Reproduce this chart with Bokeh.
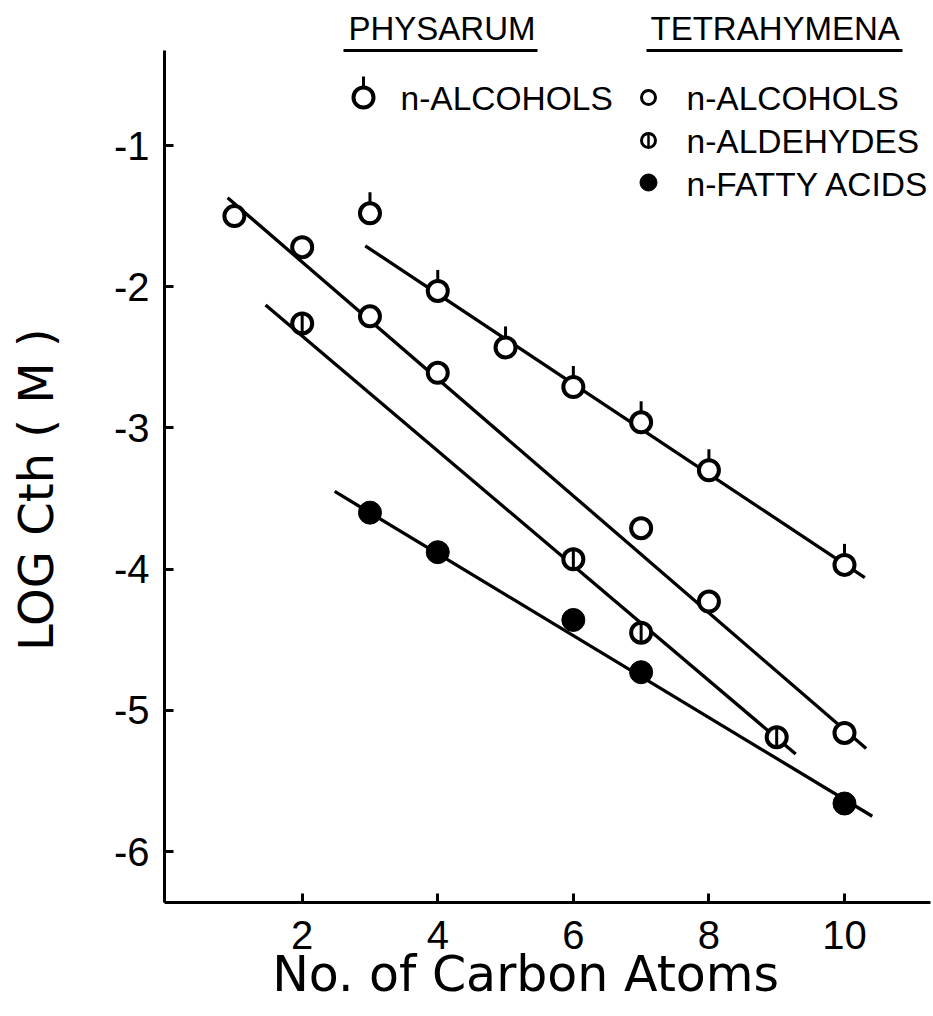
import math
from bokeh.plotting import figure
from bokeh.models import Range1d, FixedTicker, Label, BoxAnnotation
from bokeh.embed import file_html
from bokeh.resources import INLINE

# ---------------- data ----------------
phys_alc_x = [3, 4, 5, 6, 7, 8, 10]
phys_alc_y = [-1.48, -2.03, -2.43, -2.71, -2.96, -3.30, -3.97]

tetra_alc_x = [1, 2, 3, 4, 7, 8, 10]
tetra_alc_y = [-1.50, -1.72, -2.21, -2.61, -3.71, -4.23, -5.16]

tetra_ald_x = [2, 6, 7, 9]
tetra_ald_y = [-2.26, -3.93, -4.45, -5.19]

tetra_fa_x = [3, 4, 6, 7, 10]
tetra_fa_y = [-3.60, -3.88, -4.36, -4.73, -5.66]

# regression lines as drawn (end points)
phys_alc_fit_x = [2.93, 10.30]
phys_alc_fit_y = [-1.71, -4.06]
tetra_alc_fit_x = [0.90, 10.32]
tetra_alc_fit_y = [-1.37, -5.27]
tetra_ald_fit_x = [1.46, 9.28]
tetra_ald_fit_y = [-2.13, -5.31]
tetra_fa_fit_x = [2.48, 10.41]
tetra_fa_fit_y = [-3.45, -5.75]

x_ticks = [2, 4, 6, 8, 10]
x_tick_labels = ["2", "4", "6", "8", "10"]
y_ticks = [-1, -2, -3, -4, -5, -6]
y_tick_labels = ["-1", "-2", "-3", "-4", "-5", "-6"]

x_title = "No. of Carbon Atoms"
y_title = "LOG Cth ( M )"
header_left = "PHYSARUM"
header_right = "TETRAHYMENA"
legend_labels = ["n-ALCOHOLS", "n-ALCOHOLS", "n-ALDEHYDES", "n-FATTY ACIDS"]

# ---------------- layout (pixels of the 933x1016 picture) ----------------
X0, X1 = -0.031, 11.313
Y0, Y1 = -6.361, 0.027
FL, FT, FW, FH = 164, 0, 769, 902
TXT_SHIFT = 12   # Label baseline correction (px)


def px(X):
    return X0 + (X - FL) / FW * (X1 - X0)


def py(Y):
    return Y1 - (Y - FT) / FH * (Y1 - Y0)


p = figure(frame_width=FW, frame_height=FH,
           min_border_left=FL, min_border_top=0, min_border_right=0,
           min_border_bottom=106,
           x_range=Range1d(X0, X1), y_range=Range1d(Y0, Y1),
           output_backend="svg", toolbar_location=None)
p.outline_line_color = None
p.xgrid.visible = False
p.ygrid.visible = False
p.background_fill_color = "white"
p.border_fill_color = "white"

TICK_FONT = "Liberation Sans"
for ax in (p.xaxis[0], p.yaxis[0]):
    ax.axis_line_width = 3
    ax.axis_line_color = "black"
    ax.major_tick_line_width = 3
    ax.major_tick_in = 9
    ax.major_tick_out = 0
    ax.minor_tick_line_color = None
    ax.major_label_text_font = TICK_FONT
    ax.major_label_text_font_size = "40px"
    ax.major_label_text_color = "black"
    ax.axis_label_text_font = "DejaVu Sans"
    ax.axis_label_text_font_style = "normal"
    ax.axis_label_text_color = "black"

p.xaxis[0].ticker = FixedTicker(ticks=x_ticks)
p.yaxis[0].ticker = FixedTicker(ticks=y_ticks)
p.xaxis[0].major_label_overrides = dict(zip(x_ticks, x_tick_labels))
p.yaxis[0].major_label_overrides = dict(zip(y_ticks, y_tick_labels))
p.xaxis[0].major_label_standoff = 18
p.yaxis[0].major_label_standoff = 15
p.yaxis[0].bounds = (Y0, py(50))
p.xaxis[0].bounds = (X0, px(930))

p.xaxis[0].axis_label = x_title + "\u00a0" * 3
p.xaxis[0].axis_label_text_font_size = "49px"
p.xaxis[0].axis_label_standoff = -6
p.yaxis[0].axis_label = y_title + "\u00a0" * 5
p.yaxis[0].axis_label_text_font_size = "48px"
p.yaxis[0].axis_label_standoff = 47

LW = 3.3

# fitted lines
for fx, fy in ((phys_alc_fit_x, phys_alc_fit_y), (tetra_alc_fit_x, tetra_alc_fit_y),
               (tetra_ald_fit_x, tetra_ald_fit_y), (tetra_fa_fit_x, tetra_fa_fit_y)):
    p.line(fx, fy, line_color="black", line_width=LW)

MS = 20
OLW = 4
# Physarum alcohols: open circle with a short tick on top
p.ray(x=phys_alc_x, y=phys_alc_y, length=21, length_units="screen",
      angle=math.pi / 2, line_color="black", line_width=3)
p.scatter(phys_alc_x, phys_alc_y, marker="circle", size=MS, fill_color="white",
          line_color="black", line_width=OLW)
# Tetrahymena alcohols: open circle
p.scatter(tetra_alc_x, tetra_alc_y, marker="circle", size=MS, fill_color="white",
          line_color="black", line_width=OLW)
# Tetrahymena aldehydes: circle with vertical bar
p.scatter(tetra_ald_x, tetra_ald_y, marker="circle", size=MS, fill_color="white",
          line_color="black", line_width=OLW)
p.scatter(tetra_ald_x, tetra_ald_y, marker="dash", size=MS, angle=math.pi / 2,
          line_color="black", line_width=3)
# Tetrahymena fatty acids: filled circle
p.scatter(tetra_fa_x, tetra_fa_y, marker="circle", size=23, fill_color="black",
          line_color="black", line_width=1)

# ---------------- legend ----------------
LEG_FONT = "Liberation Sans"
for hx, txt in ((348, header_left), (650, header_right)):
    p.add_layout(Label(x=px(hx), y=py(40 - TXT_SHIFT), text=txt, text_font=LEG_FONT,
                       text_font_size="33px", text_color="black",
                       text_align="left", text_baseline="alphabetic"))
for ux0, ux1 in ((343, 537), (646, 902)):
    p.add_layout(BoxAnnotation(left=px(ux0), right=px(ux1), top=py(48.5), bottom=py(51.5),
                               fill_color="black", fill_alpha=1, line_color=None))

# legend markers
p.ray(x=[px(363)], y=[py(97)], length=21, length_units="screen", angle=math.pi / 2,
      line_color="black", line_width=3)
p.scatter([px(363)], [py(97)], marker="circle", size=MS, fill_color="white",
          line_color="black", line_width=OLW)
p.scatter([px(648), px(648)], [py(97), py(140)], marker="circle", size=14,
          fill_color="white", line_color="black", line_width=3)
p.scatter([px(648)], [py(140)], marker="dash", size=14, angle=math.pi / 2,
          line_color="black", line_width=2.5)
p.scatter([px(648)], [py(182)], marker="circle", size=17, fill_color="black",
          line_color="black", line_width=1)

leg_pos = [(400, 110), (686, 110), (686, 153), (686, 196)]
for (lx, ly), txt in zip(leg_pos, legend_labels):
    p.add_layout(Label(x=px(lx), y=py(ly - TXT_SHIFT), text=txt, text_font=LEG_FONT,
                       text_font_size="33.5px", text_color="black",
                       text_align="left", text_baseline="alphabetic"))

open("out.html", "w").write(file_html(p, INLINE))
